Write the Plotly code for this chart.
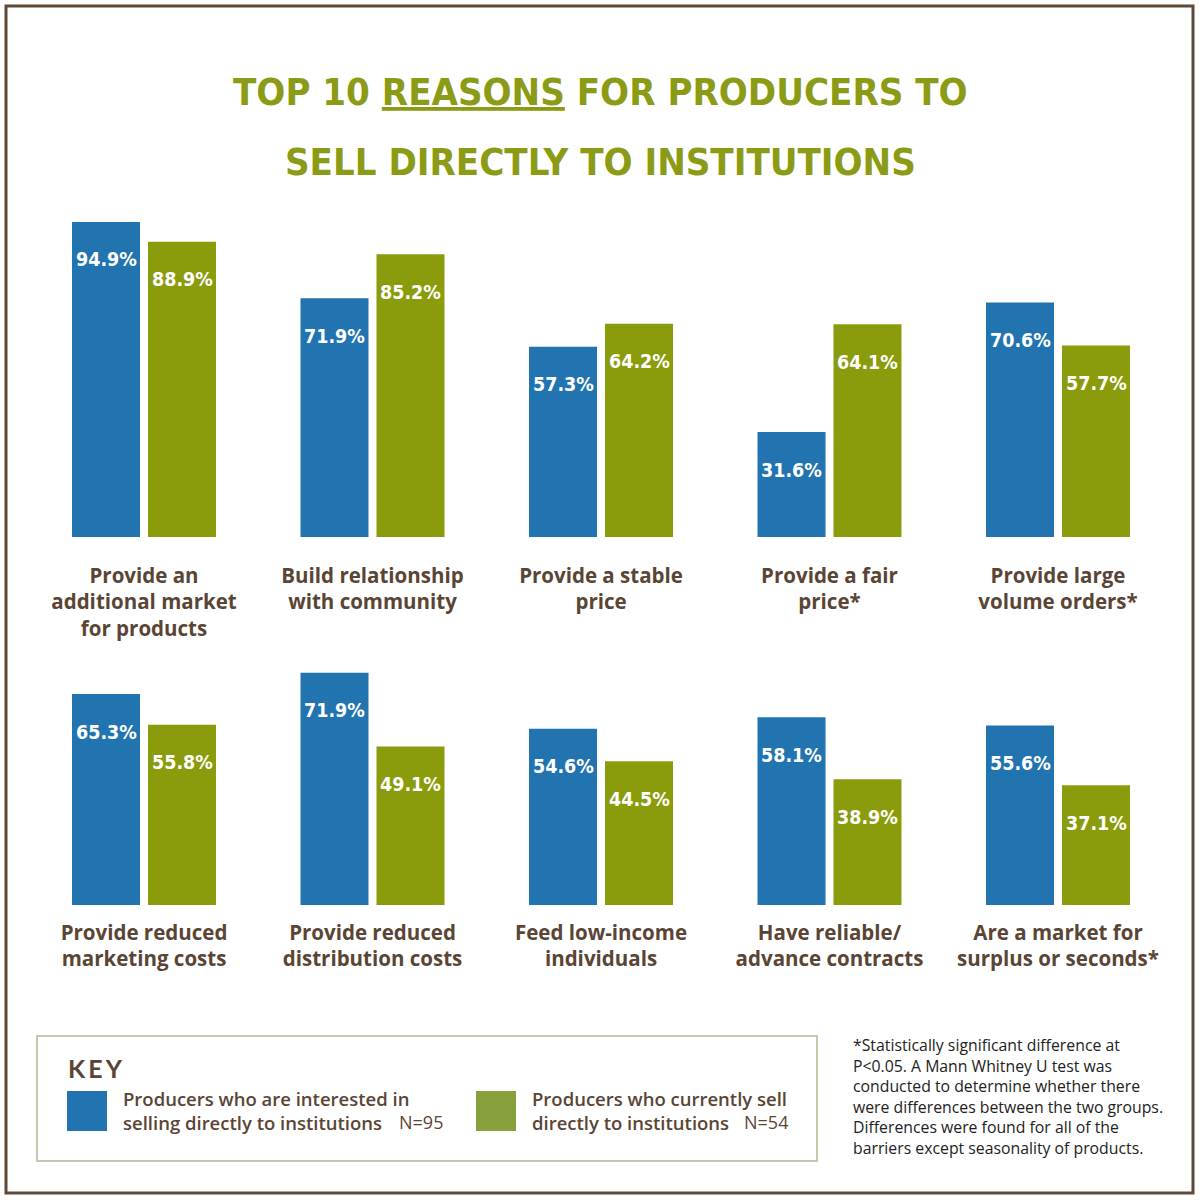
import plotly.graph_objects as go

# ---------------- data ----------------
row1_categories = ["Provide an<br>additional market<br>for products", "Build relationship<br>with community",
                   "Provide a stable<br>price", "Provide a fair<br>price*", "Provide large<br>volume orders*"]
row1_interested = [94.9, 71.9, 57.3, 31.6, 70.6]
row1_current = [88.9, 85.2, 64.2, 64.1, 57.7]

row2_categories = ["Provide reduced<br>marketing costs", "Provide reduced<br>distribution costs",
                   "Feed low-income<br>individuals", "Have reliable/<br>advance contracts",
                   "Are a market for<br>surplus or seconds*"]
row2_interested = [65.3, 71.9, 54.6, 58.1, 55.6]
row2_current = [55.8, 49.1, 44.5, 38.9, 37.1]

series_names = ["Producers who are interested in selling directly to institutions",
                "Producers who currently sell directly to institutions"]

# ---------------- style ----------------
BLUE = "#2274b0"
GREEN = "#8a9c0c"
KEYGREEN = "#89a13c"
BROWN = "#5a4535"
TITLEGREEN = "#8b9b15"
COND = "DejaVu Sans Condensed, DejaVu Sans, sans-serif"
W = H = 1200

def px(x):
    return x / W

def py(y):
    return 1 - y / H

fig = go.Figure()

rows = [
    ("x", "y", row1_categories, row1_interested, row1_current),
    ("x2", "y2", row2_categories, row2_interested, row2_current),
]

annotations = []
for xa, ya, cats, s1, s2 in rows:
    fig.add_trace(go.Bar(x=cats, y=s1, name=series_names[0], marker=dict(color=BLUE, line=dict(width=0)),
                         xaxis=xa, yaxis=ya, showlegend=False, hoverinfo="skip"))
    fig.add_trace(go.Bar(x=cats, y=s2, name=series_names[1], marker=dict(color=GREEN, line=dict(width=0)),
                         xaxis=xa, yaxis=ya, showlegend=False, hoverinfo="skip"))
    for vals, shift in ((s1, -38), (s2, 38)):
        for c, v in zip(cats, vals):
            annotations.append(dict(
                x=c, y=v, xref=xa, yref=ya, xshift=shift, yshift=-38,
                text=f"{v}%", showarrow=False, yanchor="middle", xanchor="center",
                font=dict(family=COND, size=19.5, weight="bold", color="white")))

# title
title_font = dict(family=COND, size=38, weight="bold", color=TITLEGREEN)
annotations.append(dict(x=0.5, y=py(92), xref="paper", yref="paper", showarrow=False,
                        text="TOP 10 <u>REASONS</u> FOR PRODUCERS TO", yanchor="middle", font=title_font))
annotations.append(dict(x=0.5, y=py(162), xref="paper", yref="paper", showarrow=False,
                        text="SELL DIRECTLY TO INSTITUTIONS", yanchor="middle", font=title_font))

# key
annotations.append(dict(x=px(66), y=py(1068), xref="paper", yref="paper", showarrow=False,
                        text="K\u2009E\u2009Y", xanchor="left", yanchor="middle",
                        font=dict(family="Lato", size=25, weight="bold", color=BROWN)))
key_font = dict(family="Open Sans", size=18.5, weight=600, color=BROWN)
annotations.append(dict(x=px(121), y=py(1110), xref="paper", yref="paper", showarrow=False,
                        text="Producers who are interested in<br>selling directly to institutions",
                        xanchor="left", yanchor="middle", align="left", font=key_font))
annotations.append(dict(x=px(397), y=py(1122), xref="paper", yref="paper", showarrow=False,
                        text="N=95", xanchor="left", yanchor="middle",
                        font=dict(family="Open Sans", size=18, color=BROWN)))
annotations.append(dict(x=px(530), y=py(1110), xref="paper", yref="paper", showarrow=False,
                        text="Producers who currently sell<br>directly to institutions",
                        xanchor="left", yanchor="middle", align="left", font=key_font))
annotations.append(dict(x=px(742), y=py(1122), xref="paper", yref="paper", showarrow=False,
                        text="N=54", xanchor="left", yanchor="middle",
                        font=dict(family="Open Sans", size=18, color=BROWN)))

# footnote
annotations.append(dict(x=px(851), y=py(1096), xref="paper", yref="paper", showarrow=False,
                        text="*Statistically significant difference at<br>P&lt;0.05. A Mann Whitney U test was<br>"
                             "conducted to determine whether there<br>were differences between the two groups.<br>"
                             "Differences were found for all of the<br>barriers except seasonality of products.",
                        xanchor="left", yanchor="middle", align="left",
                        font=dict(family="Open Sans", size=15.8, color="#222222")))

shapes = [
    dict(type="rect", xref="paper", yref="paper", x0=px(6), x1=px(1193), y0=py(6), y1=py(1193),
         line=dict(color="#5c4b3b", width=3)),
    dict(type="rect", xref="paper", yref="paper", x0=px(37), x1=px(817), y0=py(1036), y1=py(1161),
         line=dict(color="#c9c6ad", width=2)),
    dict(type="rect", xref="paper", yref="paper", x0=px(67), x1=px(107), y0=py(1091), y1=py(1131),
         line=dict(width=0), fillcolor=BLUE),
    dict(type="rect", xref="paper", yref="paper", x0=px(476), x1=px(516), y0=py(1091), y1=py(1131),
         line=dict(width=0), fillcolor=KEYGREEN),
]

tickfont = dict(family="Open Sans", size=20.5, weight=700, color=BROWN)
xdom = [px(29.75), px(1172.25)]
fig.update_layout(
    width=W, height=H, margin=dict(l=0, r=0, t=0, b=0),
    paper_bgcolor="white", plot_bgcolor="white",
    barmode="group", bargap=0.335, bargroupgap=0.105,
    xaxis=dict(domain=xdom, anchor="y", tickfont=tickfont, showgrid=False, zeroline=False,
               showline=False, ticks="", ticklabelstandoff=24),
    yaxis=dict(domain=[py(537), py(205)], range=[0, 100], visible=False, anchor="x"),
    xaxis2=dict(domain=xdom, anchor="y2", tickfont=tickfont, showgrid=False, zeroline=False,
                showline=False, ticks="", ticklabelstandoff=13),
    yaxis2=dict(domain=[py(905), py(646.6)], range=[0, 80], visible=False, anchor="x2"),
    annotations=annotations, shapes=shapes,
)

fig.write_html("out.html", config={"displayModeBar": False},
               post_script="document.body.style.margin='0';")
